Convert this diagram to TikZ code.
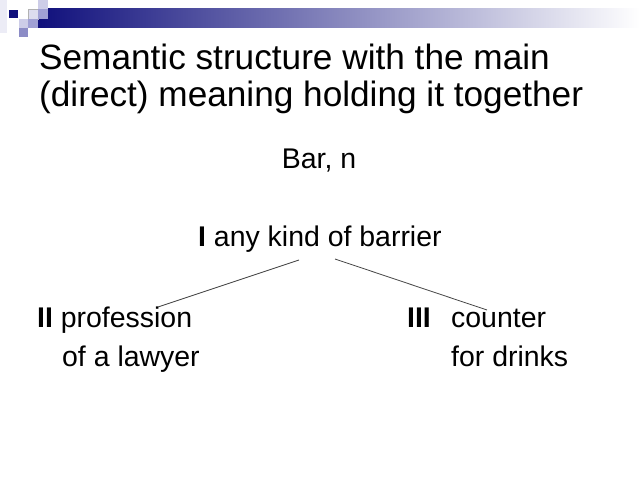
\documentclass[tikz,border=0pt]{standalone}
\usepackage{fontspec}
\setmainfont{Liberation Sans}
\definecolor{navy}{RGB}{16,16,124}
\definecolor{barmid}{RGB}{88,88,168}
\definecolor{sqpale}{RGB}{236,236,246}
\definecolor{sqlight}{RGB}{205,205,232}
\definecolor{sqmid}{RGB}{160,160,212}
\definecolor{sqdeep}{RGB}{140,140,198}
\definecolor{linkgray}{RGB}{70,70,70}
\begin{document}
\begin{tikzpicture}[x=1.125pt,y=-1.125pt,
  title/.style={anchor=base west,inner sep=0pt,font=\fontsize{39.6}{48}\selectfont},
  body/.style={anchor=base west,inner sep=0pt,font=\fontsize{32}{38}\selectfont},
  link/.style={draw=linkgray,line width=0.9pt}]
\useasboundingbox[fill=white] (0,0) rectangle (640,480);
% decoration
\shade[left color=navy,middle color=barmid,right color=white] (38,9) rectangle (640,28);
\fill[sqpale] (0,0) rectangle (7,33);
\fill[navy] (9,10) rectangle (18,18);
\fill[sqlight] (38,0) rectangle (48,9);
\filldraw[fill=sqlight!70!white,draw=gray!60,line width=0.4pt] (28,9) rectangle (38,19);
\fill[sqmid] (38,9) rectangle (48,19);
\fill[sqlight] (19,19) rectangle (28,28);
\fill[sqmid] (28,19) rectangle (38,28);
\fill[sqdeep] (19,28) rectangle (28,37);
% title
\node[title] (t1) at (39,70) {Semantic structure with the main};
\node[title] (t2) at (39,107) {(direct) meaning holding it together};
% tree
\node[body,anchor=base] (bar) at (319,169) {Bar, n};
\node[body] (one) at (198,246) {\textbf{I} any kind of barrier};
\node[body] (two) at (37,327) {\textbf{II} profession};
\node[body] (twob) at (62,366) {of a lawyer};
\node[body] (three) at (407,327) {\textbf{III}};
\node[body] (threeb) at (451,327) {counter};
\node[body] (threec) at (451,366) {for drinks};
% connectors
\coordinate (oneL) at (299,260);
\coordinate (oneR) at (335,259);
\coordinate (twoT) at (158,307);
\coordinate (threeT) at (487,310);
\draw[link] (oneL) -- (twoT);
\draw[link] (oneR) -- (threeT);
\end{tikzpicture}
\end{document}
